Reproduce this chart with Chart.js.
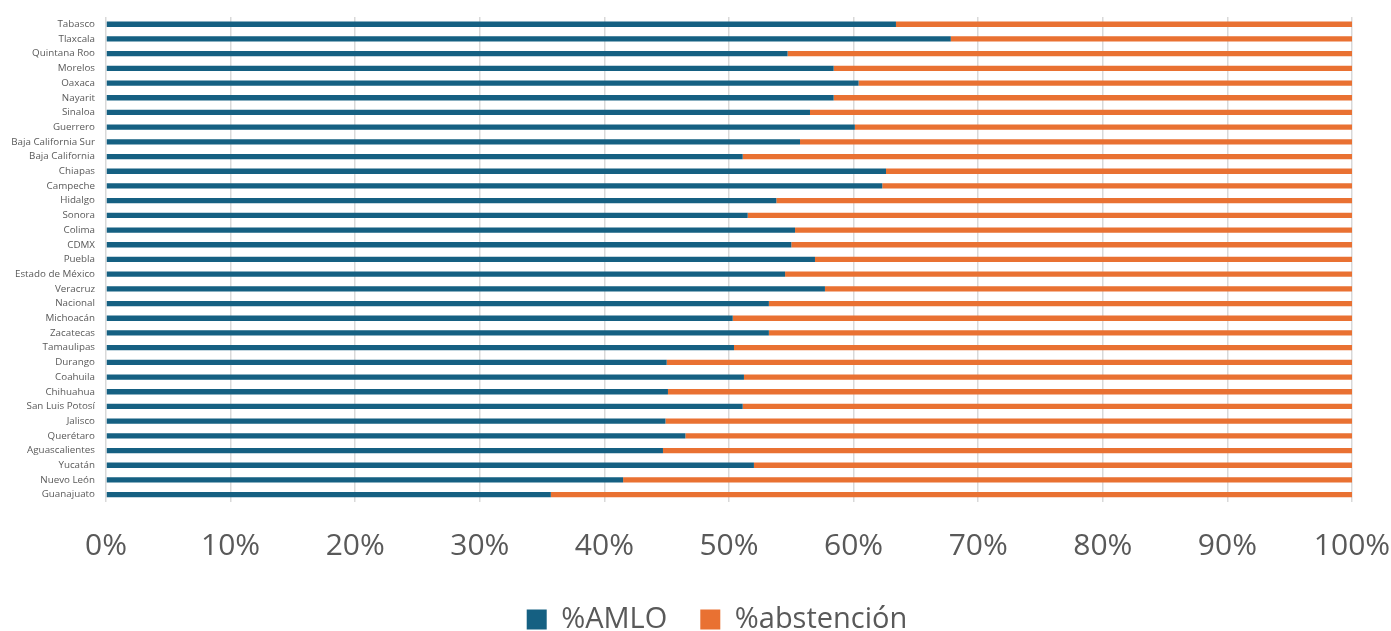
<!DOCTYPE html>
<html>
<head>
<meta charset="utf-8">
<script src="https://cdn.jsdelivr.net/npm/chart.js@4/dist/chart.umd.min.js"></script>
<style>
  html, body { margin: 0; padding: 0; background: #ffffff; overflow: hidden; }
  #wrap { width: 1391px; height: 631px; position: relative; }
</style>
</head>
<body>
<div id="wrap"><canvas id="c" width="1391" height="631"></canvas></div>
<script>
const categories = ["Tabasco","Tlaxcala","Quintana Roo","Morelos","Oaxaca","Nayarit","Sinaloa","Guerrero","Baja California Sur","Baja California","Chiapas","Campeche","Hidalgo","Sonora","Colima","CDMX","Puebla","Estado de México","Veracruz","Nacional","Michoacán","Zacatecas","Tamaulipas","Durango","Coahuila","Chihuahua","San Luis Potosí","Jalisco","Querétaro","Aguascalientes","Yucatán","Nuevo León","Guanajuato"];
const amlo = [63.4, 67.8, 54.7, 58.4, 60.4, 58.4, 56.5, 60.1, 55.7, 51.1, 62.6, 62.3, 53.8, 51.5, 55.3, 55.0, 56.9, 54.5, 57.7, 53.2, 50.3, 53.2, 50.4, 45.0, 51.2, 45.1, 51.1, 44.9, 46.5, 44.7, 52.0, 41.5, 35.7];
const abstencion = [36.6, 32.2, 45.3, 41.6, 39.6, 41.6, 43.5, 39.9, 44.3, 48.9, 37.4, 37.7, 46.2, 48.5, 44.7, 45.0, 43.1, 45.5, 42.3, 46.8, 49.7, 46.8, 49.6, 55.0, 48.8, 54.9, 48.9, 55.1, 53.5, 55.3, 48.0, 58.5, 64.3];
const xTicks = [0, 10, 20, 30, 40, 50, 60, 70, 80, 90, 100];
const seriesNames = ["%AMLO", "%abstención"];

const legendShift = {
  id: 'legendShift',
  afterLayout(chart) {
    if (chart.legend) { chart.legend.left += 41; chart.legend.right += 41; }
  }
};

new Chart(document.getElementById('c'), {
  type: 'bar',
  data: {
    labels: categories,
    datasets: [
      { label: seriesNames[0], data: amlo, backgroundColor: '#156082', borderWidth: 0,
        categoryPercentage: 1, barPercentage: 0.36 },
      { label: seriesNames[1], data: abstencion, backgroundColor: '#E97132', borderWidth: 0,
        categoryPercentage: 1, barPercentage: 0.36 }
    ]
  },
  plugins: [legendShift],
  options: {
    indexAxis: 'y',
    responsive: false,
    animation: false,
    layout: { padding: { top: 13, right: 39, bottom: -13, left: 0 } },
    plugins: {
      tooltip: { enabled: false },
      legend: {
        position: 'bottom',
        labels: {
          boxWidth: 20, boxHeight: 20, padding: 33,
          color: '#595959',
          font: { family: 'Open Sans', size: 29 }
        }
      }
    },
    scales: {
      x: {
        stacked: true,
        min: 0, max: 100,
        afterBuildTicks: (s) => { s.ticks = xTicks.map(v => ({ value: v })); },
        afterFit: (s) => { s.height = 70; s.paddingRight = 0; s.paddingLeft = 0; },
        grid: { color: '#d9d9d9', lineWidth: 1.5, drawTicks: false },
        border: { display: false },
        ticks: {
          padding: 26,
          color: '#595959',
          font: { family: 'Open Sans', size: 30 },
          callback: (v) => v + '%'
        }
      },
      y: {
        stacked: true,
        afterFit: (s) => { s.width = 106; },
        grid: { display: false, drawTicks: false },
        border: { display: false },
        ticks: {
          padding: 11,
          color: '#595959',
          autoSkip: false,
          font: { family: 'Open Sans', size: 9.8 }
        }
      }
    }
  }
});
</script>
</body>
</html>
